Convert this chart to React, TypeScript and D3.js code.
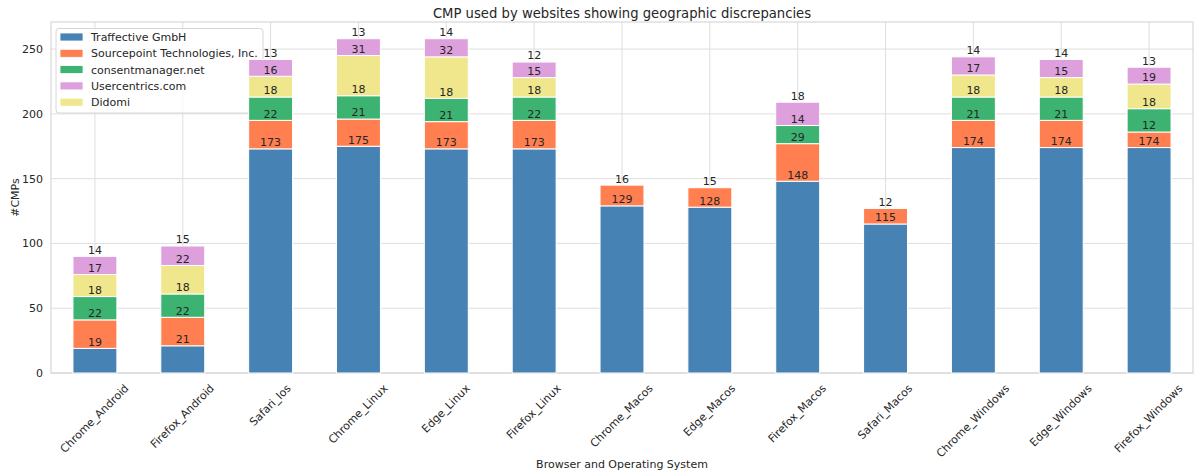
import React, { useEffect, useRef } from "react";
import * as d3 from "d3";

const categories = [
  "Chrome_Android", "Firefox_Android", "Safari_Ios", "Chrome_Linux", "Edge_Linux",
  "Firefox_Linux", "Chrome_Macos", "Edge_Macos", "Firefox_Macos", "Safari_Macos",
  "Chrome_Windows", "Edge_Windows", "Firefox_Windows",
];

const traffective = [19, 21, 173, 175, 173, 173, 129, 128, 148, 115, 174, 174, 174];
const sourcepoint = [22, 22, 22, 21, 21, 22, 16, 15, 29, 12, 21, 21, 12];
const consentmanager = [18, 18, 18, 18, 18, 18, 0, 0, 14, 0, 18, 18, 18];
const didomi = [17, 22, 16, 31, 32, 15, 0, 0, 0, 0, 17, 15, 19];
const usercentrics = [14, 15, 13, 13, 14, 12, 0, 0, 18, 0, 14, 14, 13];

const yTicks = [0, 50, 100, 150, 200, 250];

// stacking order (bottom -> top)
const stackSeries = [
  { name: "Traffective GmbH", values: traffective, color: "#4682b4" },
  { name: "Sourcepoint Technologies, Inc.", values: sourcepoint, color: "#ff7f50" },
  { name: "consentmanager.net", values: consentmanager, color: "#3cb371" },
  { name: "Didomi", values: didomi, color: "#f0e68c" },
  { name: "Usercentrics.com", values: usercentrics, color: "#dda0dd" },
];
const legendOrder = [
  "Traffective GmbH", "Sourcepoint Technologies, Inc.", "consentmanager.net",
  "Usercentrics.com", "Didomi",
];

const W = 1196;
const H = 473;
const left = 51, right = 1193, top = 22, bottom = 373;
const textColor = "#262626";
const gridColor = "#dedede";
const FONT = "DejaVu Sans, sans-serif";
const FS = 11;

export default function App() {
  const ref = useRef<SVGSVGElement>(null);

  useEffect(() => {
    const svg = d3.select(ref.current);
    svg.selectAll("*").remove();

    const x = d3.scaleBand<string>().domain(categories).range([left, right]).paddingInner(0).paddingOuter(0);
    const barW = x.bandwidth() * 0.5;
    const y = d3.scaleLinear().domain([0, 270.9]).range([bottom, top]);

    const g = svg.append("g").attr("font-family", FONT);

    // grid
    g.selectAll(".hg").data(yTicks).enter().append("line")
      .attr("x1", left).attr("x2", right)
      .attr("y1", (d) => y(d)).attr("y2", (d) => y(d))
      .attr("stroke", gridColor).attr("stroke-width", 1);
    g.selectAll(".vg").data(categories).enter().append("line")
      .attr("x1", (d) => x(d)! + x.bandwidth() / 2).attr("x2", (d) => x(d)! + x.bandwidth() / 2)
      .attr("y1", top).attr("y2", bottom)
      .attr("stroke", gridColor).attr("stroke-width", 1);

    // frame
    g.append("rect").attr("x", left).attr("y", top).attr("width", right - left).attr("height", bottom - top)
      .attr("fill", "none").attr("stroke", "#d0d0d0").attr("stroke-width", 1);

    // legend (bars end up drawn over it, as in the source figure)
    const lg = g.append("g");
    lg.append("rect").attr("x", 56).attr("y", 28.5).attr("width", 207).attr("height", 84.5)
      .attr("rx", 3).attr("fill", "#ffffff").attr("fill-opacity", 0.8)
      .attr("stroke", "#d6d6d6").attr("stroke-width", 1);
    legendOrder.forEach((name, i) => {
      const s = stackSeries.find((q) => q.name === name)!;
      const cy = 37 + i * 16.3;
      lg.append("rect").attr("x", 60).attr("y", cy - 4).attr("width", 23).attr("height", 8)
        .attr("fill", s.color).attr("stroke", "#ffffff").attr("stroke-width", 0.8);
      lg.append("text").attr("x", 91).attr("y", cy + 4)
        .attr("font-size", FS).attr("fill", textColor).text(name);
    });

    // stacked bars
    const stack = d3.stack<number>()
      .keys(stackSeries.map((s, i) => String(i)))
      .value((idx, key) => stackSeries[+key].values[idx]);
    const layers = stack(categories.map((_, i) => i));

    layers.forEach((layer, si) => {
      g.append("g").selectAll("rect").data(layer).enter().append("rect")
        .attr("x", (d, i) => x(categories[i])! + x.bandwidth() / 2 - barW / 2)
        .attr("y", (d) => y(d[1]))
        .attr("width", barW)
        .attr("height", (d) => y(d[0]) - y(d[1]))
        .attr("fill", stackSeries[si].color)
        .attr("stroke", (d) => (d[1] - d[0] > 0 ? "#ffffff" : "none"))
        .attr("stroke-width", 1);
    });

    // bar labels at top edge of each segment
    layers.forEach((layer) => {
      g.append("g").selectAll("text").data(layer.filter((d) => d[1] - d[0] > 0)).enter().append("text")
        .attr("x", (d) => x(categories[d.data])! + x.bandwidth() / 2)
        .attr("y", (d) => y(d[1]) - 2.6)
        .attr("text-anchor", "middle")
        .attr("font-size", FS)
        .attr("fill", textColor)
        .text((d) => String(d[1] - d[0]));
    });

    // y tick labels
    g.selectAll(".yt").data(yTicks).enter().append("text")
      .attr("x", 43).attr("y", (d) => y(d) + 4)
      .attr("text-anchor", "end").attr("font-size", FS).attr("fill", textColor)
      .text((d) => String(d));

    // x tick labels, rotated 45, bbox centred on tick
    const xl = g.selectAll(".xt").data(categories).enter().append("text")
      .attr("text-anchor", "end").attr("font-size", FS).attr("fill", textColor)
      .text((d) => d);
    xl.each(function (d) {
      const w = (this as SVGTextElement).getComputedTextLength();
      const cx = x(d)! + x.bandwidth() / 2;
      const ax = cx + 0.7071 * (w + 6) / 2;
      const ay = 389;
      d3.select(this).attr("transform", `translate(${ax},${ay}) rotate(-45)`);
    });

    // axis labels & title
    g.append("text").attr("x", (left + right) / 2).attr("y", 468)
      .attr("text-anchor", "middle").attr("font-size", FS).attr("fill", textColor)
      .text("Browser and Operating System");
    g.append("text").attr("transform", `translate(19,${(top + bottom) / 2}) rotate(-90)`)
      .attr("text-anchor", "middle").attr("font-size", FS).attr("fill", textColor)
      .text("#CMPs");
    g.append("text").attr("x", (left + right) / 2).attr("y", 18)
      .attr("text-anchor", "middle").attr("font-size", 13.2).attr("fill", textColor)
      .text("CMP used by websites showing geographic discrepancies");
  }, []);

  return (
    <svg ref={ref} width={W} height={H}
      style={{ position: "absolute", left: 0, top: 0, background: "#ffffff" }} />
  );
}
